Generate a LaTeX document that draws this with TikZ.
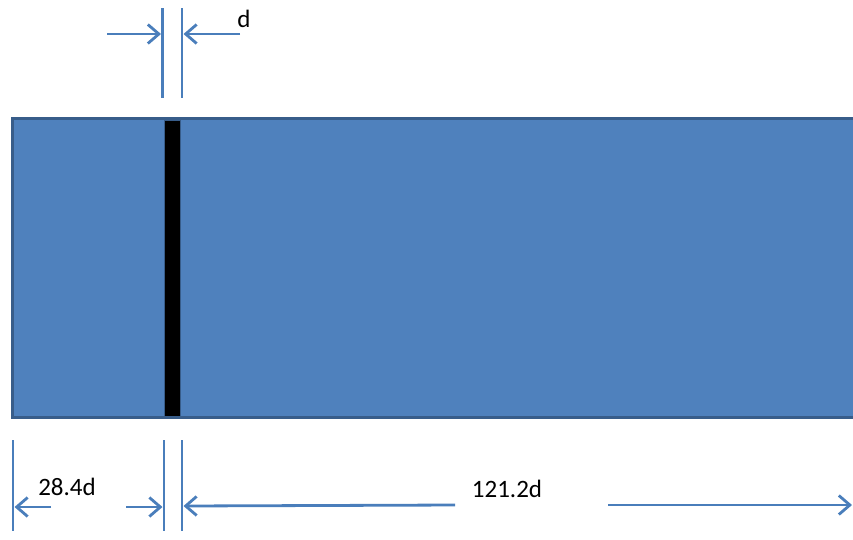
\documentclass[tikz,border=0pt]{standalone}
\usepackage{fontspec}
\setmainfont{Carlito}
\usetikzlibrary{arrows.meta}
\definecolor{dimblue}{HTML}{4A7EBB}
\definecolor{fillblue}{HTML}{4F81BD}
\definecolor{edgeblue}{HTML}{385D8A}
\begin{document}
\begin{tikzpicture}[x=1pt,y=-1pt,
  dimline/.style={draw=dimblue,line width=2.8pt},
  dimarrow/.style={dimline,-{Straight Barb[length=11pt,width=19pt,line width=2.8pt]}},
  dimtext/.style={font=\fontsize{25}{30}\selectfont,inner sep=0pt,text=black},
  slab/.style={fill=fillblue,draw=edgeblue,line width=3pt},
  barstyle/.style={fill=black,draw=edgeblue,line width=1pt}]
\useasboundingbox (0,0) rectangle (853,539);
\clip (0,0) rectangle (853,539);
% plate and bar
\draw[slab] (12,118) rectangle (870,417);
\node[barstyle,minimum width=16pt,minimum height=296pt,inner sep=0pt,anchor=north west] (bar) at (164,120) {};
% top dimension
\coordinate (t1a) at (162.5,8); \coordinate (t1b) at (162.5,98);
\coordinate (t2a) at (182,8);   \coordinate (t2b) at (182,98);
\draw[dimline] (t1a) -- (t1b);
\draw[dimline] (t2a) -- (t2b);
\coordinate (ta) at (107,34); \coordinate (tae) at (161,34);
\coordinate (tb) at (240,34); \coordinate (tbe) at (183.5,34);
\draw[dimarrow] (ta) -- (tae);
\draw[dimarrow] (tb) -- (tbe);
\node[dimtext] (dlab) at (244,19) {d};
% bottom dimensions
\coordinate (b1a) at (13,440);  \coordinate (b1b) at (13,531);
\coordinate (b2a) at (164,440); \coordinate (b2b) at (164,531);
\coordinate (b3a) at (182,440); \coordinate (b3b) at (182,531);
\draw[dimline] (b1a) -- (b1b);
\draw[dimline] (b2a) -- (b2b);
\draw[dimline] (b3a) -- (b3b);
\coordinate (l1) at (51,507);  \coordinate (l1e) at (14.5,507);
\coordinate (l2) at (126,507); \coordinate (l2e) at (162.5,507);
\coordinate (l3) at (455,505); \coordinate (l3e) at (183.5,506);
\coordinate (l4) at (608,505); \coordinate (l4e) at (852,505);
\draw[dimarrow] (l1) -- (l1e);
\draw[dimarrow] (l2) -- (l2e);
\draw[dimarrow] (l3) -- (l3e);
\draw[dimarrow] (l4) -- (l4e);
\node[dimtext] (lab1) at (67,487) {28.4d};
\node[dimtext] (lab2) at (507,489) {121.2d};
\end{tikzpicture}
\end{document}
